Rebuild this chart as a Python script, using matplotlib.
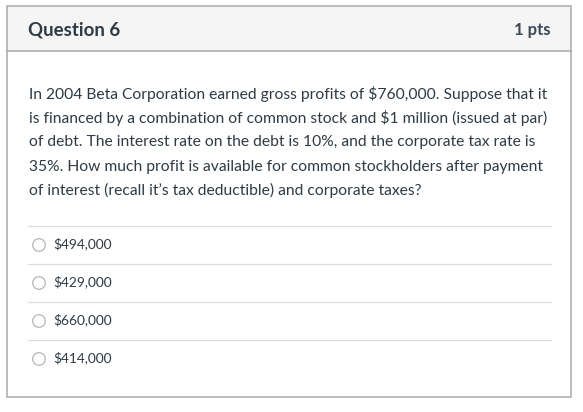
import matplotlib
matplotlib.use("Agg")
import matplotlib.pyplot as plt
from matplotlib.patches import Rectangle, Circle

# ---- content ----
title = "Question 6"
points = "1 pts"
question_lines = [
    "In 2004 Beta Corporation earned gross profits of $760,000. Suppose that it",
    "is financed by a combination of common stock and $1 million (issued at par)",
    "of debt. The interest rate on the debt is 10%, and the corporate tax rate is",
    "35%. How much profit is available for common stockholders after payment",
    "of interest (recall it\u2019s tax deductible) and corporate taxes?",
]
options = ["$494,000", "$429,000", "$660,000", "$414,000"]

W, H = 583, 412
fig = plt.figure(figsize=(W / 100, H / 100), dpi=100)
ax = fig.add_axes([0, 0, 1, 1])
ax.set_xlim(0, W)
ax.set_ylim(H, 0)
ax.axis("off")

txt = "#2d3b45"
font = ["Lato", "DejaVu Sans"]

# outer box and header
box_l, box_r, box_t, box_b = 7, 571, 6, 397
head_b = 51
ax.add_patch(Rectangle((box_l, box_t), box_r - box_l, head_b - box_t,
                       facecolor="#f5f5f5", edgecolor="none", zorder=1))
ax.add_patch(Rectangle((box_l, box_t), box_r - box_l, box_b - box_t,
                       facecolor="none", edgecolor="#a9a9a9", lw=1.1, zorder=3))
ax.plot([box_l, box_r], [head_b, head_b], color="#a9a9a9", lw=1.1, zorder=3)

ax.text(28, 30, title, fontsize=13.4, fontweight="bold", color=txt,
        family=font, va="center", ha="left")
ax.text(551, 30, points, fontsize=12.0, fontweight="bold", color="#3d4a54",
        family=font, va="center", ha="right")

# question text
y0, dy = 94, 24.2
for i, line in enumerate(question_lines):
    ax.text(29, y0 + i * dy, line, fontsize=11.25, color=txt, family=font,
            va="center", ha="left")

# options
sep_y0, sep_dy = 225.5, 38
for i, opt in enumerate(options):
    sy = sep_y0 + i * sep_dy
    ax.plot([28, 551], [sy, sy], color="#dcdcdc", lw=0.9, zorder=2)
    cy = sy + 18.5
    ax.add_patch(Circle((39, cy + 1), 6.3, facecolor="white",
                        edgecolor="#b5b5b5", lw=0.9, zorder=3))
    ax.text(53, cy, opt, fontsize=9.9, color=txt, family=font,
            va="center", ha="left")

fig.savefig("out.png", dpi=100, facecolor="white")
